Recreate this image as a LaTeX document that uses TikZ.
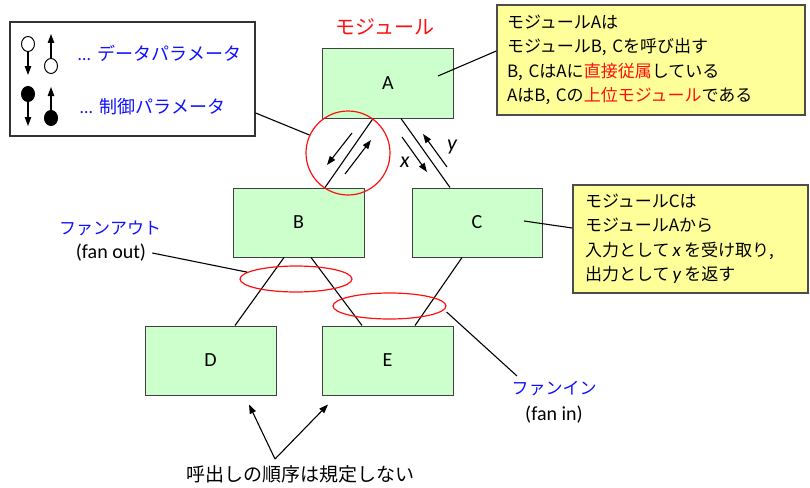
\documentclass[tikz,border=0pt]{standalone}
\usepackage{fontspec}
\setmainfont{Noto Sans CJK JP}
\newfontfamily\lat{Carlito}
\usetikzlibrary{arrows.meta,shapes.geometric}
\definecolor{boxgreen}{HTML}{CCFFCC}
\definecolor{noteyellow}{HTML}{FFFF99}
\definecolor{jblue}{HTML}{1010FF}
\definecolor{jred}{HTML}{FF1010}
\begin{document}
\begin{tikzpicture}[x=1pt,y=-1pt,
  mod/.style={draw=black!75, line width=1pt, fill=boxgreen, minimum width=131pt, minimum height=69pt, inner sep=0pt, font=\lat\fontsize{20}{24}\selectfont},
  note/.style={draw=black!70, line width=1.4pt, fill=noteyellow, align=left, inner xsep=10pt, inner ysep=0pt, font=\fontsize{17}{24.5}\selectfont},
  link/.style={draw=black, line width=1.1pt},
  arr/.style={draw=black, line width=1.1pt, -{Triangle[length=9pt,width=6.5pt]}},
  redmark/.style={draw=jred, line width=1.2pt},
  lbl/.style={inner sep=0pt, font=\fontsize{17}{20}\selectfont},
  latlbl/.style={inner sep=0pt, font=\lat\fontsize{20}{24}\selectfont},
  bluelbl/.style={lbl, text=jblue},
  var/.style={inner sep=0pt, font=\lat\itshape\fontsize{22}{24}\selectfont}
]
\useasboundingbox (0,0) rectangle (810,487);

% modules
\node[mod] (A) at (388,83.5) {A};
\node[mod] (B) at (298.5,222.5) {B};
\node[mod, minimum width=130pt] (C) at (477,222.5) {C};
\node[mod] (D) at (210.5,360.5) {D};
\node[mod] (E) at (387.5,360.5) {E};

\node[inner sep=0pt, text=jred, font=\fontsize{20}{24}\selectfont] (modlbl) at (385,27) {モジュール};

% call links
\draw[link] ([xshift=-15pt]A.south) -- ([xshift=26.5pt]B.north);
\draw[link] ([xshift=13pt]A.south) -- ([xshift=-27pt]C.north);
\draw[link] ([xshift=-14.5pt]B.south) -- ([xshift=24.5pt]D.north);
\draw[link] ([xshift=12.5pt]B.south) -- ([xshift=-25.5pt]E.north);
\draw[link] ([xshift=-15pt]C.south) -- ([xshift=27.5pt]E.north);

% parameter arrows
\coordinate (a1s) at (352,133); \coordinate (a1e) at (327,165);
\coordinate (a2s) at (345,174); \coordinate (a2e) at (371,140);
\coordinate (a3s) at (402,137); \coordinate (a3e) at (427,172);
\coordinate (a4s) at (447,167); \coordinate (a4e) at (423,134);
\draw[arr] (a1s) -- (a1e);
\draw[arr] (a2s) -- (a2e);
\draw[arr] (a3s) -- (a3e);
\draw[arr] (a4s) -- (a4e);
\node[var] (xl) at (405,162) {x};
\node[var] (yl) at (452,147) {y};

% red circle
\node[redmark, circle, minimum size=84pt, inner sep=0pt] (fancirc) at (348,153) {};

% legend
\node[draw=black!80, line width=1.2pt, fill=white, minimum width=245pt, minimum height=114pt, inner sep=0pt] (legend) at (132.5,79) {};
\draw[link] ([yshift=-34pt]legend.east) -- (fancirc.155);
\node[draw=black, line width=1pt, ellipse, minimum width=13pt, minimum height=15pt, inner sep=0pt] (o1) at (28,44) {};
\coordinate (o1e) at (28,75);
\draw[arr] (o1.south) -- (o1e);
\node[draw=black, line width=1pt, ellipse, minimum width=13pt, minimum height=15pt, inner sep=0pt] (o2) at (51,66) {};
\coordinate (o2e) at (51,34);
\draw[arr] (o2.north) -- (o2e);
\node[draw=black, fill=black, line width=1pt, ellipse, minimum width=13pt, minimum height=15pt, inner sep=0pt] (f1) at (28,94) {};
\coordinate (f1e) at (28,126);
\draw[arr] (f1.south) -- (f1e);
\node[draw=black, fill=black, line width=1pt, ellipse, minimum width=13pt, minimum height=15pt, inner sep=0pt] (f2) at (51,118) {};
\coordinate (f2e) at (51,87);
\draw[arr] (f2.north) -- (f2e);
\node[bluelbl, anchor=west, font=\fontsize{18}{20}\selectfont] (ldata) at (78,53) {{\lat …}\, データパラメータ};
\node[bluelbl, anchor=west, font=\fontsize{18}{20}\selectfont] (lctrl) at (80,107) {{\lat …}\, 制御パラメータ};

% notes
\node[note, text width=288pt, minimum height=110pt] (noteA) at (651,60) {%
モジュールAは\\
モジュールB, Cを呼び出す\\
B, CはAに{\color{jred}直接従属}している\\
AはB, Cの{\color{jred}上位モジュール}である};
\draw[link] ([xshift=50pt,yshift=7.5pt]A.center) -- ([yshift=9pt]noteA.west);

\node[note, inner xsep=12pt, text width=211pt, minimum height=108pt] (noteC) at (690.5,239) {%
モジュールCは\\
モジュールAから\\
入力として{\lat\itshape\fontsize{19}{24.5}\selectfont\,x\,}を受け取り,\\
出力として{\lat\itshape\fontsize{19}{24.5}\selectfont\,y\,}を返す};
\draw[link] ([xshift=47pt,yshift=1.5pt]C.center) -- ([yshift=11pt]noteC.west);

% fan out / fan in
\node[redmark, ellipse, minimum width=112pt, minimum height=26pt, inner sep=0pt] (fanout) at (296,279) {};
\node[redmark, ellipse, minimum width=113pt, minimum height=26pt, inner sep=0pt] (fanin) at (389.5,306) {};
\node[bluelbl] (folbl) at (110,228) {ファンアウト};
\node[latlbl] (foen) at (111,253) {(fan out)};
\draw[link] ([xshift=6pt]foen.east) -- (fanout.172);
\node[bluelbl] (filbl) at (554,389) {ファンイン};
\node[latlbl] (fien) at (554,415) {(fan in)};
\coordinate (fiend) at (517,376);
\draw[link] ([yshift=-6pt]fanin.east) -- (fiend);

% caption
\node[lbl, font=\fontsize{19}{22}\selectfont] (cap) at (300,474) {呼出しの順序は規定しない};
\coordinate (capt) at (275,459);
\draw[arr] (capt) -- ([xshift=38.5pt,yshift=-9pt]D.south);
\draw[arr] (capt) -- ([xshift=-59.5pt,yshift=-9pt]E.south);
\end{tikzpicture}
\end{document}
